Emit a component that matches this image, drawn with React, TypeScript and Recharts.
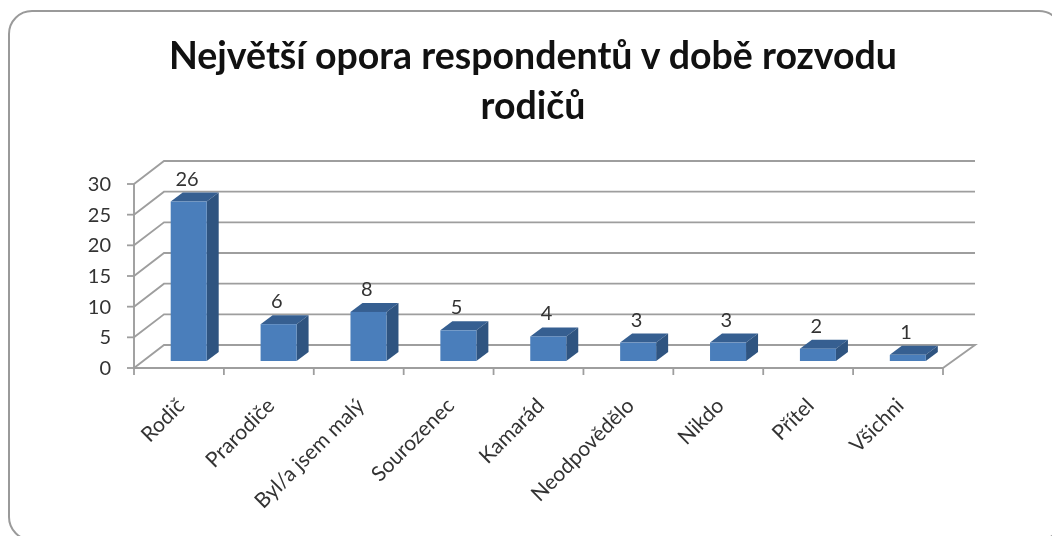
import React from "react";
import { BarChart, Bar, XAxis, YAxis, CartesianGrid, LabelList } from "recharts";

const categories = ["Rodič", "Prarodiče", "Byl/a jsem malý", "Sourozenec", "Kamarád", "Neodpovědělo", "Nikdo", "Přítel", "Všichni"];
const values = [26, 6, 8, 5, 4, 3, 3, 2, 1];
const yTicks = [0, 5, 10, 15, 20, 25, 30];
const titleLines = ["Největší opora respondentů v době rozvodu", "rodičů"];

const rows = categories.map((name, i) => ({ name, value: values[i] }));

const W = 1052;
const H = 536;
const LEFT = 134;
const RIGHT = 943;
const TOP = 184;
const BOTTOM = 368;
const BAND = (RIGHT - LEFT) / categories.length;
const WALL_DX = 30;
const WALL_DY = 23;
const BAR_DX = 9.7;
const BAR_DY = 7;
const DEPTH_X = 12;
const DEPTH_Y = 9;
const GRID = "#9e9e9e";
const INK = "#333333";
const FONT = "Lato, 'Open Sans', sans-serif";

function Box(props: any) {
  const { x, y, width, height } = props;
  const l = x + BAR_DX;
  const r = l + width;
  const t = y - BAR_DY;
  const b = t + height;
  return (
    <g>
      <polygon points={`${l},${t} ${r},${t} ${r + DEPTH_X},${t - DEPTH_Y} ${l + DEPTH_X},${t - DEPTH_Y}`} fill="#365F91" />
      <polygon points={`${r},${t} ${r + DEPTH_X},${t - DEPTH_Y} ${r + DEPTH_X},${b - DEPTH_Y} ${r},${b}`} fill="#2F5480" />
      <rect x={l} y={t} width={width} height={height} fill="#4A7EBB" />
    </g>
  );
}

function WallLine(props: any) {
  const { x1, x2, y1, index } = props;
  const bx = x1 + WALL_DX;
  const by = y1 - WALL_DY;
  const floor = Math.abs(y1 - BOTTOM) < 1;
  const pts = floor
    ? `${x1},${y1} ${bx},${by} ${x2 + WALL_DX + 2},${by} ${x2},${y1}`
    : `${x1},${y1} ${bx},${by} ${x2 + WALL_DX + 2},${by}`;
  return <polyline key={index} points={pts} fill="none" stroke={GRID} strokeWidth={1.9} />;
}

function CatTick(props: any) {
  const { x, y, payload, index } = props;
  const ax = x + 7;
  const ay = y + 31;
  return (
    <g>
      <line x1={x - BAND / 2} x2={x - BAND / 2} y1={BOTTOM} y2={BOTTOM + 7} stroke={GRID} strokeWidth={1.8} />
      {index === categories.length - 1 && (
        <line x1={x + BAND / 2} x2={x + BAND / 2} y1={BOTTOM} y2={BOTTOM + 7} stroke={GRID} strokeWidth={1.8} />
      )}
      <text x={ax} y={ay} textAnchor="end" fontFamily={FONT} fontSize={21} fill={INK} transform={`rotate(-45 ${ax} ${ay})`}>
        {payload.value}
      </text>
    </g>
  );
}

function ValueLabel(props: any) {
  const { x, y, width, value } = props;
  return (
    <text x={x + width / 2 + 8} y={y - BAR_DY - 16} textAnchor="middle" fontFamily={FONT} fontSize={20} fill={INK}>
      {value}
    </text>
  );
}

export default function App() {
  return (
    <div style={{ position: "absolute", left: 0, top: 0, width: W, height: H, overflow: "hidden", background: "#fff", filter: "blur(0.6px)" }}>
      <div
        style={{
          position: "absolute",
          left: 8,
          top: 10,
          width: 1055,
          height: 531,
          border: "2.5px solid #9a9a9a",
          borderRadius: 24,
          boxSizing: "border-box",
        }}
      />
      <BarChart
        width={W}
        height={H}
        data={rows}
        margin={{ top: TOP, right: W - RIGHT, bottom: 0, left: 94 }}
        barSize={36}
        style={{ position: "absolute", left: 0, top: 0 }}
      >
        {titleLines.map((line, i) => (
          <text key={line} x={533} y={69 + i * 50} textAnchor="middle" fontFamily={FONT} fontWeight={700} fontSize={37.5} fill="#111">
            {line}
          </text>
        ))}
        <CartesianGrid horizontal={WallLine as any} vertical={false} />
        <XAxis
          dataKey="name"
          interval={0}
          height={H - BOTTOM}
          tickLine={false}
          axisLine={{ stroke: GRID, strokeWidth: 1.9 }}
          tick={CatTick as any}
        />
        <YAxis
          width={40}
          domain={[0, 30]}
          ticks={yTicks}
          tickSize={7}
          tickMargin={16}
          tickLine={{ stroke: GRID, strokeWidth: 1.8 }}
          axisLine={{ stroke: GRID, strokeWidth: 1.9 }}
          tick={{ fontFamily: FONT, fontSize: 20, fill: INK }}
        />
        <Bar dataKey="value" shape={Box as any} isAnimationActive={false}>
          <LabelList dataKey="value" content={ValueLabel as any} />
        </Bar>
      </BarChart>
    </div>
  );
}
